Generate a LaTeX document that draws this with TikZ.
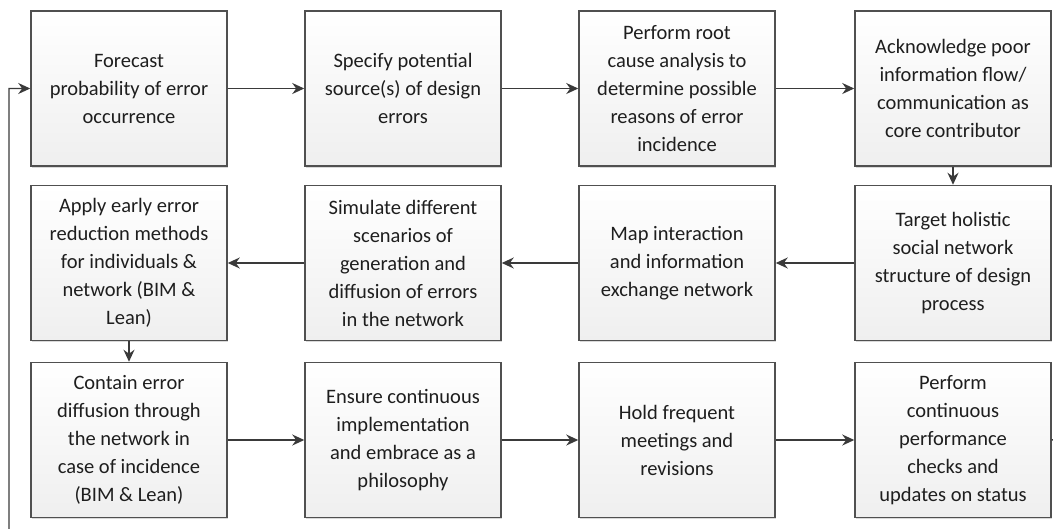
\documentclass[tikz,border=0pt]{standalone}
\usepackage{fontspec}
\setmainfont{Carlito}
\usepackage{tikz}
\usetikzlibrary{arrows.meta,shadows}
\definecolor{boxline}{HTML}{505050}
\definecolor{boxtext}{HTML}{1E1E1E}
\definecolor{boxbottom}{HTML}{EFEFEF}
\definecolor{flowline}{HTML}{3A3A3A}

\begin{document}
\begin{tikzpicture}[x=1pt,y=-1pt,
	every node/.style={font=\fontsize{20.5}{28}\selectfont, text=boxtext},
	stepbox/.style={draw=boxline, line width=1.5pt, top color=white, bottom color=boxbottom,
		minimum width=196pt, minimum height=155pt, align=center, inner sep=0pt,
		drop shadow={shadow xshift=1pt, shadow yshift=-1.5pt, opacity=0.3}},
	flow/.style={draw=flowline, line width=1.4pt, -{Stealth[length=12pt,width=11pt]}}]
		\clip (0,0) rectangle (1053,528);
		\useasboundingbox (0,0) rectangle (1053,528);
		\pgfmathsetmacro\ca{129}
		\pgfmathsetmacro\cb{403}
		\pgfmathsetmacro\cc{677}
		\pgfmathsetmacro\cd{953}
		\pgfmathsetmacro\ra{88.5}
		\pgfmathsetmacro\rb{263}
		\pgfmathsetmacro\rc{440}
		\node[stepbox] (forecast) at (\ca, \ra) {Forecast\\probability of error\\occurrence};
		\node[stepbox] (source) at (\cb, \ra) {Specify potential\\source(s) of design\\errors};
		\node[stepbox] (rootcause) at (\cc, \ra) {Perform root\\cause analysis to\\determine possible\\reasons of error\\incidence};
		\node[stepbox] (acknowledge) at (\cd, \ra) {Acknowledge poor\\information flow/\\communication as\\core contributor};
		\node[stepbox] (target) at (\cd, \rb) {Target holistic\\social network\\structure of design\\process};
		\node[stepbox] (mapping) at (\cc, \rb) {Map interaction\\and information\\exchange network};
		\node[stepbox] (simulate) at (\cb, \rb) {Simulate different\\scenarios of\\generation and\\diffusion of errors\\in the network};
		\node[stepbox] (apply) at (\ca, \rb) {Apply early error\\reduction methods\\for individuals \&\\network (BIM \&\\Lean)};
		\node[stepbox] (contain) at (\ca, \rc) {Contain error\\diffusion through\\the network in\\case of incidence\\(BIM \& Lean)};
		\node[stepbox] (ensure) at (\cb, \rc) {Ensure continuous\\implementation\\and embrace as a\\philosophy};
		\node[stepbox] (meetings) at (\cc, \rc) {Hold frequent\\meetings and\\revisions};
		\node[stepbox] (checks) at (\cd, \rc) {Perform\\continuous\\performance\\checks and\\updates on status};
		\coordinate (loopright) at (1075, 436);
		\coordinate (loopleft) at (9, 545);
		\draw[flow] (forecast) -- (source);
		\draw[flow] (source) -- (rootcause);
		\draw[flow] (rootcause) -- (acknowledge);
		\draw[flow] (acknowledge) -- (target);
		\draw[flow] (target) -- (mapping);
		\draw[flow] (mapping) -- (simulate);
		\draw[flow] (simulate) -- (apply);
		\draw[flow] (apply) -- (contain);
		\draw[flow] (contain) -- (ensure);
		\draw[flow] (ensure) -- (meetings);
		\draw[flow] (meetings) -- (checks);
		\draw[flow] (checks.east) -- (loopright) |- (loopleft) |- (forecast.west);
	\end{tikzpicture}
\end{document}
